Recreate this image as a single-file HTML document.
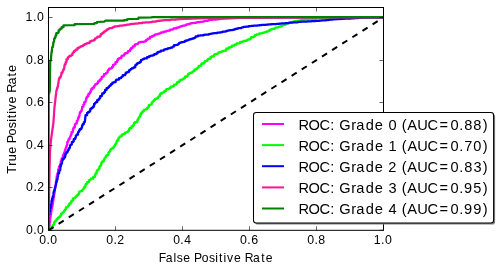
<!DOCTYPE html>
<html><head><meta charset="utf-8"><title>ROC curves</title>
<style>
html,body{margin:0;padding:0;background:#fff;}
body{width:500px;height:272px;overflow:hidden;}
svg{display:block;will-change:transform;}
text{font-family:"Liberation Sans",sans-serif;fill:#000;}
</style></head><body>
<svg width="500" height="272" viewBox="0 0 500 272">
<rect x="0" y="0" width="500" height="272" fill="#fff"/>
<defs><clipPath id="ax"><rect x="48.5" y="7.5" width="335.0" height="222.8"/></clipPath></defs>
<g clip-path="url(#ax)">
<polyline points="48.5,230.3 48.7,230.3 48.7,229.3 49.0,229.3 49.0,227.4 49.0,226.1 49.2,226.1 49.2,225.2 49.3,225.2 49.6,225.2 49.6,223.7 49.6,222.4 49.8,222.4 50.0,222.4 50.0,221.0 50.1,221.0 50.1,220.1 50.1,218.4 50.4,218.4 50.4,216.9 50.6,216.9 50.6,216.0 50.8,216.0 50.8,214.2 51.1,214.2 51.1,212.9 51.2,212.9 51.2,212.3 51.3,212.3 51.3,211.0 51.5,211.0 51.5,209.3 51.8,209.3 51.8,208.0 52.0,208.0 52.0,206.9 52.2,206.9 52.4,206.9 52.4,205.4 52.6,205.4 52.6,204.2 52.8,204.2 52.8,203.0 52.8,201.1 53.1,201.1 53.3,201.1 53.3,200.0 53.5,200.0 53.5,198.6 53.5,197.6 53.7,197.6 54.0,197.6 54.0,195.6 54.2,195.6 54.2,194.4 54.3,194.4 54.3,193.6 54.6,193.6 54.6,192.0 57.0,175.0 57.4,175.0 57.4,173.7 57.7,173.7 57.7,172.8 58.1,172.8 58.1,171.4 58.1,169.8 58.6,169.8 58.6,168.8 58.9,168.8 58.9,167.7 59.2,167.7 59.2,166.2 59.7,166.2 60.1,166.2 60.1,164.8 60.5,164.8 60.5,163.6 60.8,163.6 60.8,162.6 60.8,161.3 61.2,161.3 61.2,160.0 61.6,160.0 61.6,158.7 62.0,158.7 62.6,158.7 62.6,157.1 63.0,157.1 63.0,156.0 63.0,154.9 63.4,154.9 63.9,154.9 63.9,153.4 64.1,153.4 64.1,152.6 64.7,152.6 64.7,151.1 65.2,151.1 65.2,149.5 65.5,149.5 65.5,148.5 66.0,148.5 66.0,147.3 66.4,147.3 66.4,146.0 66.9,146.0 66.9,144.9 67.2,144.9 67.2,144.0 67.2,142.2 67.9,142.2 67.9,141.2 68.3,141.2 68.3,140.3 68.7,140.3 68.7,138.9 69.2,138.9 69.7,138.9 69.7,137.7 70.1,137.7 70.1,136.6 70.6,136.6 70.6,135.5 71.1,135.5 71.1,134.2 71.6,134.2 71.6,133.0 71.6,132.0 72.1,132.0 72.9,132.0 72.9,130.3 72.9,129.2 73.4,129.2 73.4,128.4 73.8,128.4 73.8,127.2 74.3,127.2 74.9,127.2 74.9,126.0 74.9,124.3 75.7,124.3 75.7,123.4 76.1,123.4 76.8,123.4 76.8,122.0 76.8,120.8 77.2,120.8 77.7,120.8 77.7,119.6 78.2,119.6 78.2,118.3 78.2,117.4 78.5,117.4 79.1,117.4 79.1,115.8 79.6,115.8 79.6,114.6 79.6,113.5 80.0,113.5 80.0,112.0 80.5,112.0 80.9,112.0 80.9,111.0 81.7,111.0 81.7,109.3 82.1,109.3 82.1,108.5 82.1,106.8 82.8,106.8 83.4,106.8 83.4,105.6 83.4,104.5 83.9,104.5 84.3,104.5 84.3,103.5 84.3,102.0 85.0,102.0 85.6,102.0 85.6,100.8 86.0,100.8 86.0,100.1 86.0,98.8 86.6,98.8 86.6,97.2 87.4,97.2 87.4,96.2 87.9,96.2 88.3,96.2 88.3,95.5 88.3,94.0 89.0,94.0 89.4,94.0 89.4,93.2 90.0,93.2 90.0,92.0 90.8,92.0 90.8,91.0 90.8,90.2 91.4,90.2 91.4,88.8 92.6,88.8 92.6,87.7 93.4,87.7 94.1,87.7 94.1,86.9 94.1,86.0 94.8,86.0 94.8,85.1 95.5,85.1 95.5,84.1 96.3,84.1 97.1,84.1 97.1,83.2 98.0,83.2 98.0,82.0 98.0,81.3 98.6,81.3 99.6,81.3 99.6,80.2 100.5,80.2 100.5,79.1 101.7,79.1 101.7,77.7 101.7,76.8 102.4,76.8 103.1,76.8 103.1,76.1 104.0,76.1 104.0,75.0 104.0,74.1 104.9,74.1 106.0,74.1 106.0,73.0 106.5,73.0 106.5,72.5 107.6,72.5 107.6,71.4 107.6,70.8 108.2,70.8 108.2,69.9 109.1,69.9 109.1,68.7 110.3,68.7 111.0,68.7 111.0,68.0 112.0,68.0 112.0,66.9 113.0,66.9 113.0,65.7 113.0,64.8 113.9,64.8 114.4,64.8 114.4,64.2 115.5,64.2 115.5,63.0 115.5,62.2 116.2,62.2 117.1,62.2 117.1,61.3 117.1,60.3 118.0,60.3 118.0,58.8 119.3,58.8 119.3,58.0 120.0,58.0 121.3,58.0 121.3,57.0 121.3,56.4 122.1,56.4 122.1,55.5 123.4,55.5 124.2,55.5 124.2,54.9 124.2,54.2 125.1,54.2 125.1,53.2 126.4,53.2 127.5,53.2 127.5,52.4 127.5,52.0 128.0,52.0 128.0,51.0 129.4,51.0 130.1,51.0 130.1,50.3 130.1,49.4 131.0,49.4 131.0,48.2 132.2,48.2 132.2,47.7 132.7,47.7 132.7,46.4 134.1,46.4 134.7,46.4 134.7,45.8 134.7,44.6 135.9,44.6 135.9,44.0 136.5,44.0 138.0,44.0 138.0,43.3 138.0,43.0 138.7,43.0 138.7,42.4 140.0,42.4 140.0,42.2 140.9,42.2 140.9,41.8 142.7,41.8 143.9,41.8 143.9,41.5 145.1,41.5 145.1,41.2 146.0,41.2 146.0,41.0 146.0,40.1 147.1,40.1 147.1,39.3 148.1,39.3 148.1,38.6 148.9,38.6 150.0,38.6 150.0,37.6 150.0,36.9 150.9,36.9 152.0,36.9 152.0,36.0 153.2,36.0 153.2,35.5 154.6,35.5 154.6,35.0 154.6,34.7 155.4,34.7 155.4,34.3 156.4,34.3 157.6,34.3 157.6,33.9 158.7,33.9 158.7,33.5 160.0,33.5 160.0,33.0 161.1,33.0 161.1,32.7 161.1,32.4 162.1,32.4 163.6,32.4 163.6,31.9 163.6,31.6 164.7,31.6 166.3,31.6 166.3,31.1 166.3,30.8 167.2,30.8 168.4,30.8 168.4,30.5 170.0,30.5 170.0,30.0 170.0,29.7 170.9,29.7 172.8,29.7 172.8,29.1 173.5,29.1 173.5,28.9 173.5,28.4 175.2,28.4 176.6,28.4 176.6,28.0 176.6,27.7 177.7,27.7 178.6,27.7 178.6,27.4 178.6,27.0 180.0,27.0 180.0,26.6 181.1,26.6 181.1,26.0 182.8,26.0 182.8,25.6 184.0,25.6 185.3,25.6 185.3,25.2 186.5,25.2 186.5,24.8 186.5,24.4 187.7,24.4 187.7,24.0 188.9,24.0 190.0,24.0 190.0,23.6 190.0,23.4 191.5,23.4 191.5,23.2 192.5,23.2 193.8,23.2 193.8,23.0 193.8,22.8 195.3,22.8 196.2,22.8 196.2,22.6 196.2,22.4 197.4,22.4 197.4,22.2 198.6,22.2 198.6,22.0 200.0,22.0 200.0,21.8 201.0,21.8 202.3,21.8 202.3,21.5 204.0,21.5 204.0,21.2 204.9,21.2 204.9,21.0 204.9,20.8 206.2,20.8 207.6,20.8 207.6,20.5 208.6,20.5 208.6,20.3 208.6,20.0 210.0,20.0 210.0,19.9 211.2,19.9 212.5,19.9 212.5,19.8 212.5,19.6 213.5,19.6 213.5,19.5 214.9,19.5 216.3,19.5 216.3,19.4 217.8,19.4 217.8,19.2 217.8,19.1 219.1,19.1 220.0,19.1 220.0,19.0 240.0,18.0 290.0,17.6 383.5,17.3" fill="none" stroke="#ff00ff" stroke-width="2.25" stroke-linejoin="round"/>
<polyline points="48.5,230.3 48.5,229.0 49.5,229.0 49.5,228.1 50.3,228.1 50.3,227.6 50.7,227.6 51.5,227.6 51.5,226.6 52.6,226.6 52.6,225.2 53.4,225.2 53.4,224.3 54.1,224.3 54.1,223.3 54.1,222.5 54.7,222.5 54.7,221.4 55.7,221.4 55.7,220.4 56.5,220.4 56.5,219.4 57.2,219.4 57.2,218.5 58.0,218.5 58.0,217.6 58.7,217.6 59.5,217.6 59.5,216.6 60.5,216.6 60.5,215.3 61.1,215.3 61.1,214.5 61.1,213.5 61.9,213.5 62.5,213.5 62.5,212.7 63.2,212.7 63.2,211.8 64.1,211.8 64.1,210.6 65.0,210.6 65.0,209.5 65.9,209.5 65.9,208.3 65.9,207.3 66.7,207.3 67.3,207.3 67.3,206.6 68.4,206.6 68.4,205.2 69.2,205.2 69.2,204.2 69.2,203.7 69.6,203.7 70.7,203.7 70.7,202.3 71.5,202.3 71.5,201.4 71.5,200.5 72.2,200.5 73.0,200.5 73.0,199.5 73.0,198.3 74.1,198.3 74.9,198.3 74.9,197.5 75.7,197.5 75.7,196.6 76.5,196.6 76.5,195.8 77.4,195.8 77.4,194.8 78.6,194.8 78.6,193.7 79.2,193.7 79.2,193.0 79.2,191.6 80.5,191.6 80.5,191.0 81.1,191.0 82.3,191.0 82.3,189.7 83.0,189.7 83.0,189.0 83.8,189.0 83.8,187.9 83.8,187.3 84.2,187.3 85.3,187.3 85.3,185.8 85.3,184.9 86.0,184.9 86.0,183.8 86.7,183.8 87.2,183.8 87.2,183.2 87.2,182.0 88.0,182.0 89.0,182.0 89.0,181.1 89.0,180.1 90.2,180.1 90.2,179.6 90.8,179.6 90.8,178.7 91.8,178.7 93.2,178.7 93.2,177.5 93.2,176.9 94.0,176.9 95.0,176.9 95.0,176.0 95.0,175.2 95.4,175.2 95.4,173.6 96.2,173.6 96.5,173.6 96.5,173.0 96.5,171.7 97.1,171.7 97.1,170.2 97.9,170.2 97.9,169.6 98.2,169.6 98.8,169.6 98.8,168.4 99.5,168.4 99.5,167.0 99.5,166.0 100.0,166.0 100.7,166.0 100.7,165.0 101.3,165.0 101.3,164.1 101.3,162.7 102.2,162.7 102.2,161.3 103.1,161.3 103.9,161.3 103.9,160.2 103.9,159.0 104.7,159.0 104.7,158.0 105.4,158.0 105.4,157.0 106.0,157.0 106.0,155.7 107.0,155.7 107.0,155.0 107.4,155.0 108.4,155.0 108.4,153.6 108.4,152.7 109.1,152.7 109.1,151.5 110.0,151.5 110.0,150.6 110.6,150.6 110.6,149.0 111.8,149.0 111.8,148.4 112.3,148.4 113.3,148.4 113.3,147.0 114.0,147.0 114.0,146.0 115.0,146.0 115.0,144.5 115.7,144.5 115.7,143.5 116.5,143.5 116.5,142.3 116.5,141.7 116.9,141.7 116.9,140.4 117.7,140.4 118.4,140.4 118.4,139.4 118.4,138.1 119.3,138.1 119.3,137.0 120.0,137.0 120.0,136.3 120.9,136.3 121.8,136.3 121.8,135.7 121.8,134.6 123.1,134.6 123.1,134.1 123.8,134.1 124.8,134.1 124.8,133.4 124.8,132.6 125.8,132.6 126.8,132.6 126.8,131.9 128.0,131.9 128.0,131.0 129.0,131.0 129.0,129.9 129.0,129.0 129.7,129.0 129.7,128.0 130.6,128.0 131.5,128.0 131.5,127.0 131.5,126.3 132.1,126.3 133.1,126.3 133.1,125.0 134.0,125.0 134.0,124.0 134.0,122.9 135.1,122.9 135.1,122.1 135.9,122.1 137.3,122.1 137.3,120.7 137.3,120.0 138.0,120.0 138.0,119.0 138.6,119.0 138.6,117.5 139.4,117.5 139.4,116.5 140.0,116.5 140.3,116.5 140.3,115.8 140.3,114.4 141.1,114.4 141.1,113.2 141.8,113.2 141.8,112.4 142.6,112.4 142.6,111.2 143.8,111.2 143.8,110.8 144.2,110.8 144.2,109.5 145.5,109.5 146.0,109.5 146.0,109.0 147.1,109.0 147.1,107.9 147.9,107.9 147.9,107.1 148.8,107.1 148.8,106.2 148.8,105.1 149.9,105.1 150.6,105.1 150.6,104.4 151.7,104.4 151.7,103.3 151.7,102.5 152.5,102.5 152.5,101.7 153.3,101.7 153.3,100.8 154.2,100.8 154.2,99.9 155.1,99.9 155.1,98.8 156.2,98.8 156.8,98.8 156.8,98.2 157.9,98.2 157.9,97.1 158.8,97.1 158.8,96.2 159.9,96.2 159.9,95.1 159.9,94.2 160.8,94.2 160.8,93.3 161.7,93.3 162.4,93.3 162.4,92.6 163.2,92.6 163.2,92.1 164.5,92.1 164.5,91.3 164.5,90.8 165.3,90.8 166.4,90.8 166.4,90.1 166.4,89.1 167.9,89.1 169.0,89.1 169.0,88.4 169.9,88.4 169.9,87.9 170.6,87.9 170.6,87.4 170.6,86.7 171.8,86.7 172.8,86.7 172.8,86.1 174.0,86.1 174.0,85.3 174.0,84.6 174.9,84.6 176.4,84.6 176.4,83.5 177.2,83.5 177.2,82.9 177.2,82.0 178.5,82.0 179.4,82.0 179.4,81.3 179.4,80.3 180.9,80.3 180.9,79.6 181.8,79.6 182.8,79.6 182.8,78.9 183.6,78.9 183.6,78.3 184.9,78.3 184.9,77.3 184.9,76.5 186.0,76.5 187.3,76.5 187.3,75.5 188.0,75.5 188.0,75.0 188.0,74.0 189.3,74.0 189.3,73.2 190.3,73.2 191.4,73.2 191.4,72.3 192.6,72.3 192.6,71.5 193.2,71.5 193.2,71.0 194.5,71.0 194.5,70.0 194.5,69.3 195.4,69.3 196.7,69.3 196.7,68.3 197.6,68.3 197.6,67.6 198.7,67.6 198.7,66.7 198.7,65.8 200.0,65.8 201.1,65.8 201.1,65.0 201.1,64.6 201.6,64.6 201.6,63.4 203.2,63.4 204.2,63.4 204.2,62.7 204.2,62.1 204.9,62.1 204.9,61.1 206.3,61.1 207.3,61.1 207.3,60.4 207.3,59.7 208.1,59.7 208.1,58.8 209.4,58.8 210.5,58.8 210.5,58.0 210.5,57.0 211.8,57.0 211.8,56.3 212.8,56.3 214.0,56.3 214.0,55.5 214.0,54.8 214.9,54.8 214.9,54.0 216.0,54.0 217.3,54.0 217.3,53.5 218.1,53.5 218.1,53.2 218.1,52.6 219.6,52.6 219.6,52.2 220.8,52.2 220.8,51.9 221.6,51.9 221.6,51.4 223.0,51.4 223.0,51.0 224.0,51.0 224.0,50.5 224.8,50.5 226.3,50.5 226.3,49.5 226.3,48.7 227.7,48.7 228.5,48.7 228.5,48.2 228.5,47.4 229.7,47.4 230.8,47.4 230.8,46.8 232.0,46.8 232.0,46.0 232.0,45.6 232.9,45.6 234.5,45.6 234.5,44.9 234.5,44.6 235.3,44.6 236.7,44.6 236.7,44.0 236.7,43.4 237.9,43.4 239.0,43.4 239.0,43.0 240.0,43.0 240.0,42.5 240.0,42.0 241.6,42.0 241.6,41.6 242.8,41.6 243.8,41.6 243.8,41.3 243.8,40.9 245.1,40.9 246.6,40.9 246.6,40.4 246.6,40.0 248.0,40.0 248.0,39.3 249.1,39.3 250.2,39.3 250.2,38.6 251.1,38.6 251.1,38.0 251.1,37.2 252.5,37.2 253.5,37.2 253.5,36.6 254.8,36.6 254.8,35.7 254.8,35.0 256.0,35.0 256.9,35.0 256.9,34.7 256.9,34.3 258.2,34.3 259.4,34.3 259.4,33.9 259.4,33.4 260.9,33.4 261.9,33.4 261.9,33.0 263.1,33.0 263.1,32.6 264.6,32.6 264.6,32.1 265.4,32.1 265.4,31.9 267.0,31.9 267.0,31.3 268.0,31.3 268.0,31.0 269.4,31.0 269.4,30.4 269.4,29.9 270.8,29.9 270.8,29.4 272.1,29.4 272.1,28.9 273.2,28.9 274.6,28.9 274.6,28.4 274.6,28.1 275.3,28.1 275.3,27.5 276.8,27.5 278.0,27.5 278.0,27.0 279.0,27.0 279.0,26.7 280.8,26.7 280.8,26.0 280.8,25.8 281.5,25.8 282.6,25.8 282.6,25.4 282.6,24.9 284.1,24.9 285.4,24.9 285.4,24.5 285.4,23.9 287.1,23.9 287.1,23.6 288.0,23.6 288.0,23.1 289.4,23.1 289.4,22.8 290.4,22.8 290.4,22.3 291.9,22.3 291.9,21.8 293.7,21.8 293.7,21.5 294.3,21.5 294.3,21.0 296.0,21.0 296.0,20.9 297.1,20.9 298.3,20.9 298.3,20.7 298.3,20.5 299.8,20.5 300.9,20.5 300.9,20.3 300.9,20.1 302.2,20.1 303.7,20.1 303.7,19.9 304.4,19.9 304.4,19.8 304.4,19.6 306.0,19.6 307.5,19.6 307.5,19.4 308.8,19.4 308.8,19.3 309.9,19.3 309.9,19.2 311.7,19.2 311.7,19.0 312.6,19.0 312.6,18.9 314.0,18.9 314.0,18.8 315.4,18.8 315.4,18.7 315.4,18.5 316.5,18.5 316.5,18.4 318.0,18.4 330.0,17.8 345.0,17.4 383.5,17.3" fill="none" stroke="#00ff00" stroke-width="2.25" stroke-linejoin="round"/>
<polyline points="48.5,230.3 49.0,215.0 49.0,213.9 49.2,213.9 49.5,213.9 49.5,212.5 49.5,211.3 49.7,211.3 50.0,211.3 50.0,209.9 50.0,208.7 50.3,208.7 50.4,208.7 50.4,207.8 50.7,207.8 50.7,206.6 51.1,206.6 51.1,204.7 51.2,204.7 51.2,203.9 51.5,203.9 51.5,202.7 51.5,200.9 51.8,200.9 52.0,200.9 52.0,200.0 52.0,198.7 52.3,198.7 52.6,198.7 52.6,197.7 52.6,196.7 52.8,196.7 53.3,196.7 53.3,194.9 53.5,194.9 53.5,194.0 53.5,192.6 53.8,192.6 53.8,191.3 54.2,191.3 54.2,190.2 54.4,190.2 54.8,190.2 54.8,188.9 54.8,188.0 55.0,188.0 55.3,188.0 55.3,186.7 55.6,186.7 55.6,185.7 55.9,185.7 55.9,184.4 56.2,184.4 56.2,183.3 56.2,182.1 56.5,182.1 56.8,182.1 56.8,180.7 57.1,180.7 57.1,179.5 57.5,179.5 57.5,178.1 57.7,178.1 57.7,177.1 58.0,177.1 58.0,176.0 58.0,174.9 58.3,174.9 58.3,173.2 58.8,173.2 59.1,173.2 59.1,172.1 59.4,172.1 59.4,171.1 59.4,170.0 59.7,170.0 60.3,170.0 60.3,168.1 60.3,166.7 60.7,166.7 60.8,166.7 60.8,166.1 60.8,164.3 61.3,164.3 61.6,164.3 61.6,163.3 62.0,163.3 62.0,162.0 62.0,160.8 62.6,160.8 62.6,159.2 63.4,159.2 63.7,159.2 63.7,158.5 63.7,157.5 64.2,157.5 65.0,157.5 65.0,155.9 65.4,155.9 65.4,155.1 65.4,153.8 66.1,153.8 66.1,152.5 66.8,152.5 67.4,152.5 67.4,151.1 68.0,151.1 68.0,150.0 68.7,150.0 68.7,148.8 69.3,148.8 69.3,147.8 70.0,147.8 70.0,146.6 70.0,145.3 70.7,145.3 70.7,144.5 71.2,144.5 71.8,144.5 71.8,143.4 71.8,142.2 72.6,142.2 73.0,142.2 73.0,141.4 73.7,141.4 73.7,140.2 73.7,139.0 74.4,139.0 75.2,139.0 75.2,137.8 75.8,137.8 75.8,136.8 75.8,135.5 76.6,135.5 76.6,134.7 77.1,134.7 78.0,134.7 78.0,133.3 78.0,132.2 78.7,132.2 78.7,131.5 79.1,131.5 79.1,130.4 79.8,130.4 79.8,129.0 80.7,129.0 81.4,129.0 81.4,127.8 82.0,127.8 82.0,126.8 82.0,125.6 82.7,125.6 82.7,124.1 83.5,124.1 83.9,124.1 83.9,123.5 83.9,122.0 84.8,122.0 85.5,116.0 85.5,115.2 86.2,115.2 87.1,115.2 87.1,114.0 87.1,112.9 88.0,112.9 88.0,112.2 88.6,112.2 89.5,112.2 89.5,111.1 90.3,111.1 90.3,110.1 90.3,108.8 91.4,108.8 91.4,108.0 92.0,108.0 92.6,108.0 92.6,107.2 93.5,107.2 93.5,106.0 94.1,106.0 94.1,105.2 94.1,103.8 95.1,103.8 95.1,102.8 95.9,102.8 95.9,102.2 96.4,102.2 97.2,102.2 97.2,101.1 97.2,100.0 98.0,100.0 98.7,100.0 98.7,99.1 99.5,99.1 99.5,98.0 100.2,98.0 100.2,97.0 100.2,96.1 101.0,96.1 101.9,96.1 101.9,94.7 102.3,94.7 102.3,94.2 102.3,93.3 103.0,93.3 104.0,93.3 104.0,92.0 105.1,92.0 105.1,90.8 105.1,89.9 105.8,89.9 106.6,89.9 106.6,89.0 106.6,88.1 107.4,88.1 108.3,88.1 108.3,87.1 109.1,87.1 109.1,86.2 109.9,86.2 109.9,85.3 111.0,85.3 111.0,84.0 112.4,84.0 112.4,83.1 112.4,82.5 113.3,82.5 114.0,82.5 114.0,82.0 115.7,82.0 115.7,80.9 115.7,80.4 116.4,80.4 116.4,79.6 117.6,79.6 119.0,79.6 119.0,78.7 119.0,78.0 120.0,78.0 121.2,78.0 121.2,77.1 121.9,77.1 121.9,76.6 122.8,76.6 122.8,75.9 122.8,75.0 124.0,75.0 125.2,75.0 125.2,74.1 125.8,74.1 125.8,73.6 125.8,72.6 127.2,72.6 127.2,72.0 128.0,72.0 128.9,72.0 128.9,71.3 128.9,70.4 130.0,70.4 130.0,69.6 131.0,69.6 131.0,68.8 132.0,68.8 132.0,68.0 133.0,68.0 133.7,68.0 133.7,67.3 135.3,67.3 135.3,66.0 135.3,65.1 136.2,65.1 136.2,64.7 136.8,64.7 136.8,63.6 138.0,63.6 138.0,62.8 138.9,62.8 139.9,62.8 139.9,61.9 140.9,61.9 140.9,61.0 140.9,60.0 142.0,60.0 142.0,59.6 142.9,59.6 142.9,59.0 144.2,59.0 144.2,58.4 145.6,58.4 147.0,58.4 147.0,57.7 147.0,57.1 148.3,57.1 149.2,57.1 149.2,56.7 149.2,56.0 150.8,56.0 150.8,55.5 151.9,55.5 153.0,55.5 153.0,55.0 154.3,55.0 154.3,54.3 154.3,54.0 155.0,54.0 156.4,54.0 156.4,53.3 157.6,53.3 157.6,52.7 157.6,52.0 159.1,52.0 159.1,51.5 160.0,51.5 161.0,51.5 161.0,51.2 161.0,50.5 162.7,50.5 163.9,50.5 163.9,50.1 163.9,49.6 165.3,49.6 165.3,49.2 166.5,49.2 167.6,49.2 167.6,48.8 167.6,48.4 168.9,48.4 168.9,48.0 170.0,48.0 170.8,48.0 170.8,47.6 172.5,47.6 172.5,46.8 173.1,46.8 173.1,46.4 174.1,46.4 174.1,45.9 174.1,45.1 175.8,45.1 176.4,45.1 176.4,44.8 178.0,44.8 178.0,44.0 179.0,44.0 179.0,43.5 179.0,43.0 180.0,43.0 180.0,42.5 181.4,42.5 181.4,42.0 182.8,42.0 183.4,42.0 183.4,41.8 184.9,41.8 184.9,41.3 184.9,40.9 186.3,40.9 186.3,40.4 187.7,40.4 187.7,40.1 188.6,40.1 188.6,39.6 190.0,39.6 190.0,39.1 191.1,39.1 192.0,39.1 192.0,38.7 193.4,38.7 193.4,38.1 194.9,38.1 194.9,37.4 195.7,37.4 195.7,37.1 195.7,36.4 197.0,36.4 198.0,36.4 198.0,36.0 198.0,35.7 199.7,35.7 199.7,35.6 200.4,35.6 200.4,35.4 201.7,35.4 203.5,35.4 203.5,35.1 203.5,34.8 205.0,34.8 205.0,34.7 206.0,34.7 207.3,34.7 207.3,34.5 208.8,34.5 208.8,34.2 208.8,34.0 210.0,34.0 210.0,33.8 211.4,33.8 211.4,33.6 212.4,33.6 212.4,33.4 214.0,33.4 214.0,33.2 215.1,33.2 215.1,33.0 216.1,33.0 217.3,33.0 217.3,32.8 217.3,32.7 218.4,32.7 220.0,32.7 220.0,32.4 221.2,32.4 221.2,32.2 222.6,32.2 222.6,31.9 222.6,31.7 223.7,31.7 225.3,31.7 225.3,31.3 226.5,31.3 226.5,31.1 226.5,30.9 227.5,30.9 227.5,30.7 228.7,30.7 228.7,30.4 230.0,30.4 230.0,30.1 231.4,30.1 232.6,30.1 232.6,29.8 234.1,29.8 234.1,29.4 235.3,29.4 235.3,29.1 235.3,28.9 236.1,28.9 237.3,28.9 237.3,28.7 237.3,28.3 238.6,28.3 238.6,28.0 240.0,28.0 241.4,28.0 241.4,27.7 241.4,27.6 242.2,27.6 242.2,27.3 243.4,27.3 243.4,26.9 245.3,26.9 245.3,26.8 246.1,26.8 246.1,26.5 247.4,26.5 248.8,26.5 248.8,26.2 250.0,26.2 250.0,26.0 251.2,26.0 251.2,25.9 252.7,25.9 252.7,25.8 253.7,25.8 253.7,25.7 253.7,25.6 255.2,25.6 256.8,25.6 256.8,25.5 257.7,25.5 257.7,25.4 259.6,25.4 259.6,25.2 261.0,25.2 261.0,25.1 261.0,25.1 261.7,25.1 261.7,24.9 263.7,24.9 263.7,24.8 264.6,24.8 266.2,24.8 266.2,24.7 267.5,24.7 267.5,24.6 268.5,24.6 268.5,24.5 268.5,24.4 270.0,24.4 270.0,24.3 271.4,24.3 271.4,24.2 272.7,24.2 272.7,24.1 273.6,24.1 273.6,24.0 275.4,24.0 276.5,24.0 276.5,23.9 277.4,23.9 277.4,23.8 279.3,23.8 279.3,23.7 280.0,23.7 280.0,23.6 280.0,23.5 281.4,23.5 281.4,23.4 283.0,23.4 283.0,23.3 284.2,23.3 285.5,23.3 285.5,23.2 285.5,23.1 286.8,23.1 288.0,23.1 288.0,23.0 289.1,23.0 289.1,22.9 289.1,22.7 290.9,22.7 290.9,22.6 291.9,22.6 291.9,22.5 293.2,22.5 293.2,22.4 294.6,22.4 296.0,22.4 296.0,22.3 297.6,22.3 297.6,22.1 297.6,22.0 298.5,22.0 298.5,21.9 300.0,21.9 300.0,21.8 301.2,21.8 301.2,21.7 302.7,21.7 304.1,21.7 304.1,21.6 304.1,21.6 305.3,21.6 306.4,21.6 306.4,21.5 307.4,21.5 307.4,21.4 308.8,21.4 308.8,21.3 308.8,21.3 309.9,21.3 311.5,21.3 311.5,21.2 312.8,21.2 312.8,21.1 314.0,21.1 314.0,21.0 315.7,21.0 315.7,20.9 315.7,20.8 316.7,20.8 317.7,20.8 317.7,20.8 319.4,20.8 319.4,20.6 319.4,20.6 320.4,20.6 321.8,20.6 321.8,20.5 321.8,20.4 323.0,20.4 324.1,20.4 324.1,20.3 325.8,20.3 325.8,20.1 325.8,20.1 326.7,20.1 328.5,20.1 328.5,19.9 330.0,19.9 330.0,19.8 330.0,19.7 331.2,19.7 331.2,19.5 332.7,19.5 332.7,19.4 334.0,19.4 350.0,18.5 351.0,18.5 351.0,18.4 352.7,18.4 352.7,18.3 354.3,18.3 354.3,18.2 355.2,18.2 355.2,18.1 355.2,18.0 357.0,18.0 358.2,18.0 358.2,17.9 359.0,17.9 359.0,17.8 361.0,17.8 361.0,17.7 361.0,17.6 362.0,17.6 383.5,17.3" fill="none" stroke="#0000ff" stroke-width="2.25" stroke-linejoin="round"/>
<polyline points="48.5,230.3 49.0,200.0 49.5,170.0 50.0,152.0 51.0,140.0 52.4,130.0 53.5,122.0 54.4,108.0 56.0,94.0 56.2,94.0 56.2,92.9 56.2,91.8 56.5,91.8 56.5,90.3 56.8,90.3 56.8,89.2 57.0,89.2 57.0,88.0 57.3,88.0 57.6,88.0 57.6,86.4 58.0,86.4 58.0,84.8 58.2,84.8 58.2,83.6 58.5,83.6 58.5,82.3 58.5,81.5 58.7,81.5 58.7,80.0 59.0,80.0 59.0,78.7 59.5,78.7 59.5,77.4 60.1,77.4 60.6,77.4 60.6,76.1 61.1,76.1 61.1,74.9 61.4,74.9 61.4,74.3 61.4,72.7 62.0,72.7 62.6,72.7 62.6,71.5 63.0,71.5 63.0,70.4 63.4,70.4 63.4,69.4 64.0,69.4 64.0,68.0 64.4,68.0 64.4,66.8 64.4,65.6 64.8,65.6 64.8,64.2 65.3,64.2 65.7,64.2 65.7,63.1 65.7,62.0 66.1,62.0 66.5,62.0 66.5,60.7 66.5,59.3 67.0,59.3 67.8,59.3 67.8,58.5 67.8,57.3 69.0,57.3 69.0,56.8 69.5,56.8 69.5,55.8 70.5,55.8 71.3,55.8 71.3,55.0 72.4,55.0 72.4,53.9 72.4,53.2 73.1,53.2 73.1,52.3 74.0,52.3 74.0,51.2 75.1,51.2 75.1,50.6 75.7,50.6 75.7,49.6 76.7,49.6 77.6,49.6 77.6,48.7 77.6,47.9 79.0,47.9 79.0,47.3 80.3,47.3 80.3,46.7 81.3,46.7 81.3,46.0 82.6,46.0 83.1,46.0 83.1,45.7 83.1,45.0 84.5,45.0 84.5,44.1 86.1,44.1 86.1,43.5 87.2,43.5 87.2,43.0 88.1,43.0 89.6,43.0 89.6,42.2 89.6,41.7 90.6,41.7 90.6,41.0 91.9,41.0 91.9,40.5 92.7,40.5 94.0,40.5 94.0,39.8 95.0,39.8 95.0,39.2 95.0,38.6 95.8,38.6 95.8,38.0 96.7,38.0 96.7,37.4 97.7,37.4 97.7,36.7 98.8,36.7 100.0,36.7 100.0,35.9 100.7,35.9 100.7,35.3 100.7,34.2 101.9,34.2 101.9,33.3 103.0,33.3 103.0,32.7 103.8,32.7 103.8,31.8 104.8,31.8 104.8,31.2 105.7,31.2 105.7,30.5 106.6,30.5 106.6,29.6 108.0,29.6 108.0,28.9 108.9,28.9 108.9,28.4 109.7,28.4 109.7,28.0 110.7,28.0 112.4,28.0 112.4,27.4 113.0,27.4 113.0,27.1 114.5,27.1 114.5,26.6 114.5,26.4 115.6,26.4 117.2,26.4 117.2,26.2 118.2,26.2 118.2,26.1 119.6,26.1 119.6,25.9 119.6,25.7 120.7,25.7 121.8,25.7 121.8,25.6 122.7,25.6 122.7,25.4 124.2,25.4 124.2,25.2 125.6,25.2 125.6,25.0 126.7,25.0 126.7,24.8 126.7,24.6 128.0,24.6 129.2,24.6 129.2,24.4 130.1,24.4 130.1,24.2 131.5,24.2 131.5,24.0 131.5,23.9 132.4,23.9 134.2,23.9 134.2,23.7 134.9,23.7 134.9,23.7 136.7,23.7 136.7,23.5 137.7,23.5 137.7,23.4 137.7,23.3 138.5,23.3 138.5,23.2 140.0,23.2 141.7,23.2 141.7,23.0 142.3,23.0 142.3,22.9 142.3,22.7 144.4,22.7 145.1,22.7 145.1,22.6 145.1,22.4 147.1,22.4 148.4,22.4 148.4,22.3 149.8,22.3 149.8,22.1 149.8,22.0 150.9,22.0 152.2,22.0 152.2,21.8 152.2,21.7 153.1,21.7 153.1,21.5 154.4,21.5 156.2,21.5 156.2,21.2 157.4,21.2 157.4,21.0 157.4,20.8 159.0,20.8 160.0,20.8 160.0,20.6 160.0,20.5 161.6,20.5 162.3,20.5 162.3,20.4 164.0,20.4 164.0,20.3 164.0,20.2 165.2,20.2 166.9,20.2 166.9,20.1 166.9,20.1 167.8,20.1 167.8,20.0 169.1,20.0 170.7,20.0 170.7,19.9 170.7,19.7 172.4,19.7 173.0,19.7 173.0,19.7 173.0,19.6 174.4,19.6 176.1,19.6 176.1,19.5 176.1,19.4 177.6,19.4 177.6,19.3 178.7,19.3 178.7,19.2 180.0,19.2 200.0,18.5 220.0,18.0 290.0,17.5 383.5,17.3" fill="none" stroke="#ff1493" stroke-width="2.25" stroke-linejoin="round"/>
<polyline points="48.5,230.3 48.6,150.0 48.7,94.0 49.1,94.0 49.1,92.6 49.5,92.6 49.5,91.1 49.8,91.1 49.8,90.0 50.2,63.0 50.2,61.1 50.6,61.1 50.6,60.0 50.9,60.0 51.5,52.0 51.9,52.0 51.9,50.3 51.9,49.3 52.1,49.3 52.1,47.7 52.4,47.7 52.4,47.1 52.6,47.1 52.9,47.1 52.9,45.5 53.2,45.5 53.2,44.3 53.2,42.8 53.5,42.8 53.8,42.8 53.8,41.5 54.1,41.5 54.1,40.5 54.1,38.9 54.6,38.9 54.6,38.0 54.9,38.0 55.2,38.0 55.2,36.8 55.7,36.8 55.7,35.2 56.3,35.2 56.3,34.4 56.3,33.2 57.4,33.2 57.9,33.2 57.9,32.5 58.6,32.5 58.6,31.6 58.6,30.3 59.6,30.3 59.6,29.4 60.4,29.4 60.4,28.6 61.0,28.6 61.7,28.6 61.7,28.0 61.7,27.2 62.5,27.2 63.5,27.2 63.5,26.3 63.5,25.4 64.5,25.4 73.9,25.0 74.7,25.0 74.7,24.6 74.7,24.1 75.7,24.1 94.5,23.8 94.5,23.0 95.6,23.0 96.9,23.0 96.9,22.0 104.2,21.7 105.5,20.7 124.2,20.6 124.2,20.2 125.1,20.2 127.0,20.2 127.0,19.4 127.9,19.4 127.9,19.0 137.6,18.8 138.5,18.8 138.5,18.4 138.5,17.6 140.0,17.6 152.0,17.3 152.0,17.1 153.0,17.1 153.0,17.0 154.0,17.0 383.5,17.0" fill="none" stroke="#008000" stroke-width="2.25" stroke-linejoin="round"/>
<line x1="48.5" y1="230.3" x2="383.5" y2="17.5" stroke="#000" stroke-width="2" stroke-dasharray="6 6"/>
</g>
<path d="M48.50 230.30v-4M48.50 7.50v4M48.50 230.30h4M383.50 230.30h-4M115.50 230.30v-4M115.50 7.50v4M48.50 187.50h4M383.50 187.50h-4M182.50 230.30v-4M182.50 7.50v4M48.50 145.50h4M383.50 145.50h-4M249.50 230.30v-4M249.50 7.50v4M48.50 102.50h4M383.50 102.50h-4M316.50 230.30v-4M316.50 7.50v4M48.50 60.50h4M383.50 60.50h-4M383.50 230.30v-4M383.50 7.50v4M48.50 17.50h4M383.50 17.50h-4" stroke="#000" stroke-width="0.6" fill="none"/>
<rect x="48.5" y="7.5" width="335.0" height="222.8" fill="none" stroke="#000" stroke-width="1"/>
<text transform="translate(39.16 243.80) scale(0.9958 1)" x="0.00 7.26 11.11" font-size="12.30">0.0</text>
<text transform="translate(26.07 233.80) scale(0.9928 1)" x="0.00 7.26 11.11" font-size="12.30">0.0</text>
<text transform="translate(106.21 243.80) scale(1.0031 1)" x="0.00 7.35 11.13" font-size="12.30">0.2</text>
<text transform="translate(26.11 191.00) scale(1.0002 1)" x="0.00 7.35 11.13" font-size="12.30">0.2</text>
<text transform="translate(173.17 243.80) scale(0.9888 1)" x="0.00 7.26 11.11" font-size="12.30">0.4</text>
<text transform="translate(26.07 149.00) scale(0.9859 1)" x="0.00 7.26 11.11" font-size="12.30">0.4</text>
<text transform="translate(240.11 243.80) scale(1.0089 1)" x="0.00 7.18 10.94" font-size="12.30">0.6</text>
<text transform="translate(26.01 106.00) scale(1.0060 1)" x="0.00 7.18 10.94" font-size="12.30">0.6</text>
<text transform="translate(307.15 243.80) scale(1.0020 1)" x="0.00 7.23 11.05" font-size="12.30">0.8</text>
<text transform="translate(26.05 64.00) scale(0.9990 1)" x="0.00 7.23 11.05" font-size="12.30">0.8</text>
<text transform="translate(373.63 243.80) scale(1.0071 1)" x="0.00 7.43 11.38" font-size="12.30">1.0</text>
<text transform="translate(25.53 21.00) scale(1.0041 1)" x="0.00 7.43 11.38" font-size="12.30">1.0</text>
<text transform="translate(158.65 261.80) scale(0.9812 1)" x="0.00 7.20 15.19 18.46 25.03 32.23 35.92 43.86 51.25 57.80 61.53 66.03 69.64 76.73 83.93 87.83 96.24 104.56 109.07" font-size="12.40">False Positive Rate</text>
<text transform="translate(16.3 119.65) rotate(-90) scale(1.0156 1) translate(-53.38 0)" x="0.00 7.95 12.45 19.83 26.87 30.21 37.84 44.92 51.25 54.81 59.12 62.50 69.27 76.30 79.83 87.91 95.95 100.19" font-size="12.40">True Positive Rate</text>
<rect x="255.0" y="114.0" width="240.1" height="110.5" rx="2.8" ry="2.8" fill="#808080"/>
<rect x="253.5" y="112.5" width="240.1" height="110.5" rx="2.8" ry="2.8" fill="#fff" stroke="#000" stroke-width="1.05"/>
<line x1="262" y1="124.0" x2="284" y2="124.0" stroke="#ff00ff" stroke-width="2"/>
<text transform="translate(298.45 129.80) scale(1.0025 1)" x="0.00 10.02 21.03 31.80 36.25 40.71 52.78 57.70 67.11 76.22 84.68 89.77 98.41 102.99 108.64 118.43 128.64 140.78 151.58 160.47 165.30 174.46 183.84" font-size="14.60">ROC: Grade 0 (AUC=0.88)</text>
<line x1="262" y1="145.1" x2="284" y2="145.1" stroke="#00ff00" stroke-width="2"/>
<text transform="translate(298.48 150.88) scale(0.9978 1)" x="0.00 10.07 21.13 31.93 36.39 40.90 53.02 57.97 67.42 76.58 85.06 90.12 98.85 103.46 109.15 118.99 129.24 141.44 152.29 161.21 166.05 175.27 184.69" font-size="14.60">ROC: Grade 1 (AUC=0.70)</text>
<line x1="262" y1="166.2" x2="284" y2="166.2" stroke="#0000ff" stroke-width="2"/>
<text transform="translate(298.47 171.96) scale(0.9979 1)" x="0.00 10.07 21.12 31.93 36.39 40.90 53.02 57.96 67.42 76.57 85.05 89.99 98.84 103.46 109.14 118.98 129.24 141.43 152.28 161.20 166.07 175.28 184.68" font-size="14.60">ROC: Grade 2 (AUC=0.83)</text>
<line x1="262" y1="187.4" x2="284" y2="187.4" stroke="#ff1493" stroke-width="2"/>
<text transform="translate(298.47 193.04) scale(0.9979 1)" x="0.00 10.07 21.12 31.93 36.39 40.90 53.02 57.96 67.41 76.57 85.05 90.19 98.84 103.45 109.14 118.97 129.23 141.42 152.27 161.19 166.01 175.20 184.67" font-size="14.60">ROC: Grade 3 (AUC=0.95)</text>
<line x1="262" y1="208.5" x2="284" y2="208.5" stroke="#008000" stroke-width="2"/>
<text transform="translate(298.44 214.12) scale(1.0049 1)" x="0.00 9.99 20.98 31.73 36.18 40.61 52.67 57.57 66.96 76.05 84.50 89.56 98.19 102.76 108.39 118.15 128.34 140.45 151.23 160.10 164.88 174.01 183.42" font-size="14.60">ROC: Grade 4 (AUC=0.99)</text>
</svg></body></html>
